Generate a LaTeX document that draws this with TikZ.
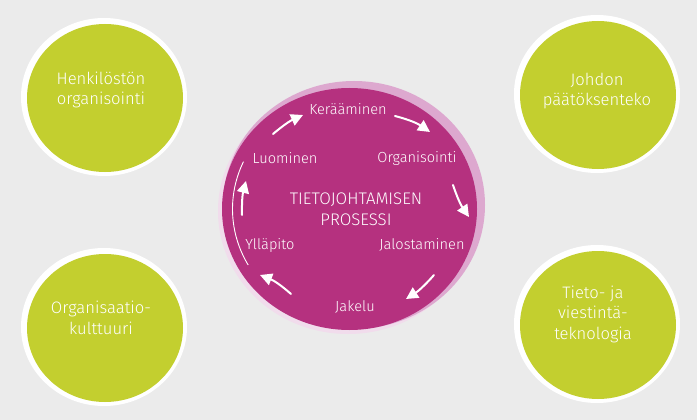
\documentclass[tikz,border=0pt]{standalone}
\usepackage{fontspec}
\setmainfont{Fira Sans}[UprightFont={* Light},BoldFont={*}]
\usetikzlibrary{arrows.meta}
\definecolor{bgc}{HTML}{EBEBEB}
\definecolor{limec}{HTML}{C3CF2F}
\definecolor{magc}{HTML}{B5317F}
\definecolor{pinkc}{HTML}{DDA8CF}
\begin{document}
\begin{tikzpicture}[x=1pt,y=-1pt,
  gtext/.style={text=white,align=center,font=\fontsize{16.6}{20.5}\selectfont,inner sep=0pt},
  ptext/.style={text=white,align=center,font=\fontsize{14.6}{18}\selectfont,inner sep=0pt},
  proc/.style={draw=white,line width=2pt,line cap=round,-{Triangle[length=12pt,width=12pt]}}]
\useasboundingbox (0,0) rectangle (697,420);
\fill[bgc] (0,0) rectangle (697,420);
% green circles
\foreach \cx/\cy in {104/97, 597/94, 104/327, 597/324}{
  \fill[white] (\cx,\cy) ellipse [x radius=83, y radius=79];
  \fill[limec] (\cx+1,\cy+1) ellipse [x radius=78, y radius=74];
}
\node[gtext] (hr) at (101,90) {Henkilöstön\\organisointi};
\node[gtext] (jp) at (597,91) {Johdon\\päätöksenteko};
\node[gtext] (ok) at (101,318) {Organisaatio-\\kulttuuri};
\node[gtext] (tv) at (593,314) {Tieto- ja\\viestintä-\\teknologia};
% central circle
\fill[white!60!pinkc] (348,211) ellipse [x radius=130, y radius=123];
\fill[pinkc] (354,205) ellipse [x radius=131, y radius=124];
\fill[magc] (349.5,209) ellipse [x radius=127.5, y radius=121];
\draw[white,line width=0.9pt] (349.5,209) ++(150:117 and 112) arc[start angle=150, end angle=205, x radius=117, y radius=112];
\node[ptext,font=\fontsize{16.8}{21}\selectfont] (tp) at (356,209) {TIETOJOHTAMISEN\\PROSESSI};
\node[ptext] (ker) at (348,109) {Kerääminen};
\node[ptext] (org) at (417,158) {Organisointi};
\node[ptext] (jal) at (422,245) {Jalostaminen};
\node[ptext] (jak) at (355,307) {Jakelu};
\node[ptext] (yll) at (270,245) {Ylläpito};
\node[ptext] (luo) at (285,158) {Luominen};
% arrow end points
\coordinate (a1s) at (273,134); \coordinate (a1e) at (303,115);
\coordinate (a2s) at (395,116); \coordinate (a2e) at (430,132);
\coordinate (a3s) at (453,185); \coordinate (a3e) at (469,217);
\coordinate (a4s) at (434,275); \coordinate (a4e) at (406,299);
\coordinate (a5s) at (291,294); \coordinate (a5e) at (260,275);
\coordinate (a6s) at (242,215); \coordinate (a6e) at (246,181);
\draw[proc] (a1s) to[bend left=8] (a1e);
\draw[proc] (a2s) to[bend left=10] (a2e);
\draw[proc] (a3s) to[bend right=8] (a3e);
\draw[proc] (a4s) to[bend left=8] (a4e);
\draw[proc] (a5s) to[bend right=10] (a5e);
\draw[proc] (a6s) to[bend left=8] (a6e);
\end{tikzpicture}
\end{document}
